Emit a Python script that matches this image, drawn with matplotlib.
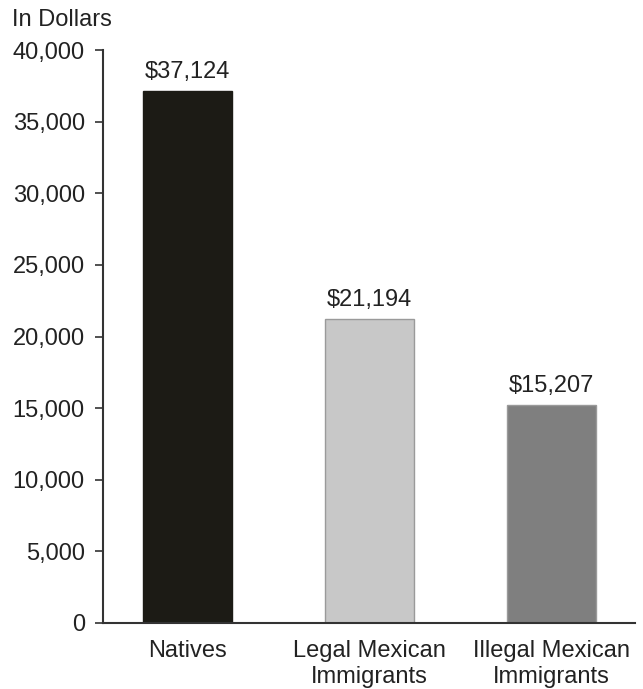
import numpy as np
import matplotlib.pyplot as plt

plt.rcParams['font.family'] = ['Liberation Sans', 'DejaVu Sans']

# income by group
groups = ["Natives", "Legal Mexican\nImmigrants", "Illegal Mexican\nImmigrants"]
income = [37124, 21194, 15207]
bar_colors = ["#1c1b15", "#c8c8c8", "#7f7f7f"]
edge_colors = ["#1c1b15", "#9a9a9a", "#9a9a9a"]
yticks = [0, 5000, 10000, 15000, 20000, 25000, 30000, 35000, 40000]


def main():
    fig = plt.figure(figsize=(6.43, 6.89), dpi=100)
    ax = fig.add_axes([0.160, 0.0958, 0.8276, 0.8316])

    x = np.arange(len(groups))
    ax.bar(x, income, width=0.49, color=bar_colors, edgecolor=edge_colors,
           linewidth=1, zorder=2)

    # value labels over each bar
    for xi, v in zip(x, income):
        ax.text(xi, v + 600, "${:,}".format(v), ha="center", va="bottom",
                fontsize=17, color="#222222")

    ax.set_xlim(-0.464, 2.46)
    ax.set_ylim(0, 40000)
    ax.set_yticks(yticks)
    ax.set_yticklabels(["{:,}".format(t) for t in yticks])
    ax.set_xticks(x)
    ax.set_xticklabels(groups, linespacing=1.25)

    ax.tick_params(axis="y", length=6, width=1.2, pad=7, labelsize=17,
                   colors="#333333", labelcolor="#222222")
    ax.tick_params(axis="x", length=0, pad=12, labelsize=17, labelcolor="#222222")

    for side in ["top", "right"]:
        ax.spines[side].set_visible(False)
    for side in ["left", "bottom"]:
        ax.spines[side].set_color("#333333")
        ax.spines[side].set_linewidth(1.5)

    fig.text(12 / 643, 1 - 20 / 689, "In Dollars", ha="left", va="center",
             fontsize=17, color="#222222")

    fig.savefig("out.png", dpi=100)


if __name__ == "__main__":
    main()
